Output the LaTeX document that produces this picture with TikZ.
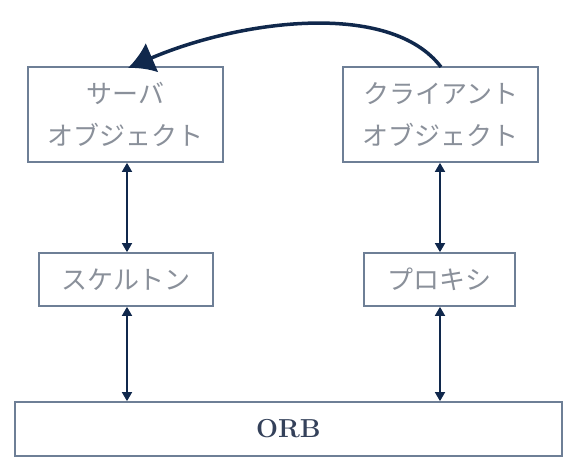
\documentclass[tikz,border=0pt]{standalone}
\usepackage{fontspec}
\newfontfamily\jpfont{Noto Sans CJK JP}
\usetikzlibrary{arrows.meta}
\definecolor{boxline}{HTML}{6E7F96}
\definecolor{boxtext}{HTML}{8A909A}
\definecolor{navy}{HTML}{10284C}
\definecolor{orbtext}{HTML}{34415A}
\tikzset{
  box/.style={draw=boxline, line width=1.7pt, fill=white, inner sep=0pt,
    align=center, text=boxtext, font=\jpfont\fontsize{26}{42}\selectfont},
  biarrow/.style={draw=navy, line width=1.6pt,
    {Triangle[length=9pt,width=10pt]}-{Triangle[length=9pt,width=10pt]}},
  bigarrow/.style={draw=navy, line width=3.5pt, -{Latex[length=26pt,width=32pt]}},
}
\begin{document}
\begin{tikzpicture}[x=1pt,y=-1pt]
\useasboundingbox (0,0) rectangle (574,465);
\node[box, minimum width=195pt, minimum height=95pt] (server) at (125.5,114.5) {サーバ\\オブジェクト};
\node[box, minimum width=195pt, minimum height=95pt] (client) at (440.5,114.5) {クライアント\\オブジェクト};
\node[box, minimum width=174pt, minimum height=53pt] (skel) at (126,279.5) {スケルトン};
\node[box, minimum width=151pt, minimum height=53pt] (proxy) at (439.5,279.5) {プロキシ};
\node[box, minimum width=547pt, minimum height=54pt, text=orbtext,
  font=\bfseries\fontsize{26}{30}\selectfont] (orb) at (288.5,429) {ORB};
\coordinate (ctop) at (441,67);
\coordinate (stop) at (128,68);
\draw[bigarrow] (ctop) .. controls (390,0) and (240,20) .. (stop);
\draw[biarrow] (server.south -| 127,0) -- (skel.north -| 127,0);
\draw[biarrow] (skel.south -| 127,0) -- (orb.north -| 127,0);
\draw[biarrow] (client.south -| 440,0) -- (proxy.north -| 440,0);
\draw[biarrow] (proxy.south -| 440,0) -- (orb.north -| 440,0);
\end{tikzpicture}
\end{document}
